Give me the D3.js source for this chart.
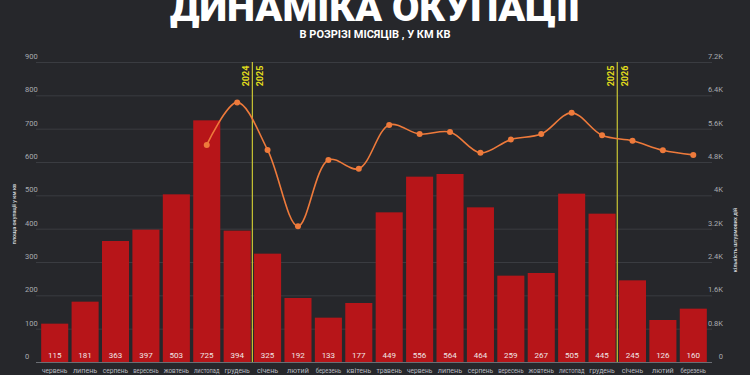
<!DOCTYPE html>
<html lang="uk">
<head>
<meta charset="UTF-8">
<title>Динаміка окупації</title>
<script src="https://d3js.org/d3.v7.min.js"></script>
<style>
    * { margin: 0; padding: 0; box-sizing: border-box; }
    html, body { width: 750px; height: 375px; background: #26272b; overflow: hidden; }
    svg { display: block; font-family: Roboto, "Noto Sans", sans-serif; }
    .grid line { stroke: #3a3c41; stroke-width: 1; }
    .tick-label { fill: #a9abb0; font-size: 7.5px; }
    .month { font-family: "Liberation Sans Narrow", Roboto, sans-serif; }
</style>
</head>
<body>
<svg id="chart" width="750" height="375"></svg>
<script>
    // months (червень 2024 .. березень 2026)
    const months = ["червень", "липень", "серпень", "вересень", "жовтень", "листопад", "грудень",
        "січень", "лютий", "березень", "квітень", "травень", "червень", "липень", "серпень",
        "вересень", "жовтень", "листопад", "грудень", "січень", "лютий", "березень"];
    // occupied area, km²
    const area = [115, 181, 363, 397, 503, 725, 394, 325, 192, 133, 177, 449, 556, 564, 464,
        259, 267, 505, 445, 245, 126, 160];
    // assault actions (right axis), starts in November 2024
    const assaults = [null, null, null, null, null, 5210, 6230, 5090, 3260, 4850, 4640, 5690,
        5470, 5520, 5020, 5340, 5470, 5980, 5440, 5310, 5080, 4970];
    const leftTicks = [0, 100, 200, 300, 400, 500, 600, 700, 800, 900];
    const rightTicks = [0, 800, 1600, 2400, 3200, 4000, 4800, 5600, 6400, 7200];
    // year boundaries: index of first month of the new year
    const yearBreaks = [{ idx: 7, before: "2024", after: "2025" }, { idx: 19, before: "2025", after: "2026" }];

    const svg = d3.select("#chart");
    const W = 750;
    const plot = { left: 39.5, right: 708.5, top: 62, bottom: 362 };

    const x = d3.scaleBand()
        .domain(d3.range(months.length))
        .range([plot.left, plot.right])
        .paddingInner(0.11)
        .paddingOuter(0.055);

    const yL = d3.scaleLinear().domain([0, 900]).range([plot.bottom, plot.top]);
    const yR = d3.scaleLinear().domain([0, 7200]).range([plot.bottom, plot.top]);

    // grid
    svg.append("g").attr("class", "grid")
        .selectAll("line").data(leftTicks.slice(1)).join("line")
        .attr("x1", 36).attr("x2", 712)
        .attr("y1", d => yL(d) + 0.5).attr("y2", d => yL(d) + 0.5);

    // left tick labels
    svg.append("g").selectAll("text").data(leftTicks).join("text")
        .attr("class", "tick-label")
        .attr("x", 25).attr("y", d => yL(d) - 3)
        .text(d => d);

    // right tick labels
    svg.append("g").selectAll("text").data(rightTicks).join("text")
        .attr("class", "tick-label")
        .attr("x", 723).attr("y", d => yR(d) - 3)
        .attr("text-anchor", "end")
        .text(d => d === 0 ? "0" : d3.format("~")(d / 1000) + "K");

    // axis titles
    svg.append("text")
        .attr("transform", `translate(16,${(plot.top + plot.bottom) / 2 + 2}) rotate(-90)`)
        .attr("text-anchor", "middle").attr("fill", "#c9cbd0")
        .attr("font-size", 5.5).attr("font-weight", 700)
        .text("площа окупації у км кв");
    svg.append("text")
        .attr("transform", `translate(737,${(plot.top + plot.bottom) / 2 + 28}) rotate(-90)`)
        .attr("text-anchor", "middle").attr("fill", "#c9cbd0")
        .attr("font-size", 5.5).attr("font-weight", 700)
        .text("кількість штурмових дій");

    // bars
    svg.append("g").selectAll("rect").data(area).join("rect")
        .attr("x", (d, i) => x(i))
        .attr("y", d => yL(d))
        .attr("width", x.bandwidth())
        .attr("height", d => yL(0) - yL(d))
        .attr("fill", "#b71519");

    // bar value labels
    svg.append("g").selectAll("text").data(area).join("text")
        .attr("x", (d, i) => x(i) + x.bandwidth() / 2)
        .attr("y", plot.bottom - 4)
        .attr("text-anchor", "middle")
        .attr("fill", "#f1e6e6").attr("font-size", 8)
        .text(d => d);

    // baseline
    svg.append("line")
        .attr("x1", 36).attr("x2", 712)
        .attr("y1", plot.bottom + 0.5).attr("y2", plot.bottom + 0.5)
        .attr("stroke", "#6b6e74");

    // month labels, squeezed to fit the band
    svg.append("g").selectAll("text").data(months).join("text")
        .attr("class", "month")
        .attr("x", (d, i) => x(i) + x.bandwidth() / 2)
        .attr("y", 373)
        .attr("text-anchor", "middle")
        .attr("fill", "#b9bbc0").attr("font-size", 7.2)
        .text(d => d)
        .each(function () {
            const maxW = x.step() - 5;
            if (this.getComputedTextLength() > maxW) {
                d3.select(this).attr("textLength", maxW).attr("lengthAdjust", "spacingAndGlyphs");
            }
        });

    // year dividers
    yearBreaks.forEach(b => {
        const bx = x(b.idx) - (x.step() - x.bandwidth()) / 2;
        svg.append("line")
            .attr("x1", bx).attr("x2", bx)
            .attr("y1", plot.top).attr("y2", plot.bottom)
            .attr("stroke", "#c9c534").attr("stroke-width", 1.2);
        svg.append("text")
            .attr("transform", `translate(${bx - 3},76) rotate(-90)`)
            .attr("text-anchor", "middle").attr("fill", "#e3df1c")
            .attr("font-size", 9).attr("font-weight", 700)
            .text(b.before);
        svg.append("text")
            .attr("transform", `translate(${bx + 11},76) rotate(-90)`)
            .attr("text-anchor", "middle").attr("fill", "#e3df1c")
            .attr("font-size", 9).attr("font-weight", 700)
            .text(b.after);
    });

    // assaults line
    const pts = assaults.map((v, i) => ({ i, v })).filter(d => d.v !== null);
    const line = d3.line()
        .x(d => x(d.i) + x.bandwidth() / 2)
        .y(d => yR(d.v))
        .curve(d3.curveCatmullRom.alpha(0.5));
    svg.append("path")
        .datum(pts)
        .attr("d", line)
        .attr("fill", "none")
        .attr("stroke", "#ee7a3b")
        .attr("stroke-width", 1.6);
    svg.append("g").selectAll("circle").data(pts).join("circle")
        .attr("cx", d => x(d.i) + x.bandwidth() / 2)
        .attr("cy", d => yR(d.v))
        .attr("r", 3)
        .attr("fill", "#ee7a3b");

    // titles
    svg.append("text")
        .attr("x", W / 2).attr("y", 21)
        .attr("text-anchor", "middle")
        .attr("fill", "#ffffff").attr("font-size", 38).attr("font-weight", 900)
        .attr("textLength", 410).attr("lengthAdjust", "spacingAndGlyphs")
        .text("ДИНАМІКА ОКУПАЦІЇ");
    svg.append("text")
        .attr("x", W / 2).attr("y", 38)
        .attr("text-anchor", "middle")
        .attr("fill", "#ffffff").attr("font-size", 11).attr("font-weight", 700)
        .text("В РОЗРІЗІ МІСЯЦІВ , У КМ КВ");
</script>
</body>
</html>
